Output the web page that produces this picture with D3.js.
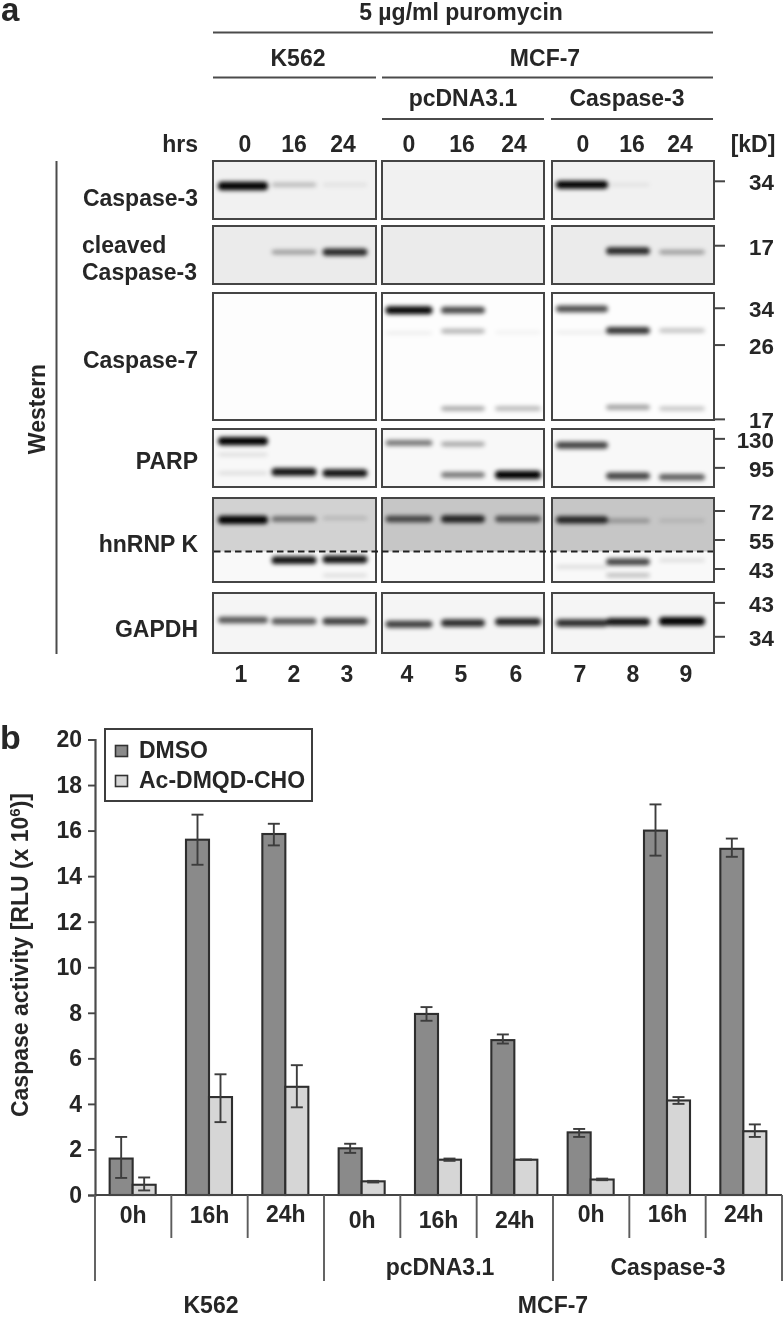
<!DOCTYPE html>
<html><head><meta charset="utf-8"><style>html,body{margin:0;padding:0;background:#fff}svg{display:block}text{font-family:"Liberation Sans",Arial,sans-serif;font-weight:700;fill:#262626}</style>
<script src="https://cdn.jsdelivr.net/npm/d3@7/dist/d3.min.js"></script></head><body><script>
// ---- panel b data ----
const groups = ["0h","16h","24h","0h","16h","24h","0h","16h","24h"];
const dmso = [1.6,15.6,15.85,2.05,7.95,6.8,2.75,16.0,15.2];
const dmsoHi = [2.55,16.7,16.3,2.25,8.25,7.05,2.9,17.15,15.65];
const dmsoLo = [0.75,14.5,15.35,1.85,7.65,6.65,2.55,14.9,14.85];
const inhib = [0.45,4.3,4.75,0.6,1.55,1.55,0.68,4.15,2.8];
const inhibHi = [0.77,5.3,5.7,0.62,1.6,1.56,0.72,4.3,3.1];
const inhibLo = [0.2,3.2,3.85,0.55,1.5,1.54,0.65,4.0,2.55];
const seriesNames = ["DMSO","Ac-DMQD-CHO"];
const yTicks = [0,2,4,6,8,10,12,14,16,18,20];
// ---- panel a data: [lane, migration within panel 0-1, density 0-1] ----
const laneNumbers = [1,2,3,4,5,6,7,8,9];
const hours = ["0","16","24"];
const casp3Bands = [[1,.43,1],[2,.41,.22],[3,.41,.07],[7,.41,.95],[8,.41,.06]];
const cleavedBands = [[2,.45,.32],[3,.45,.8],[8,.43,.8],[9,.45,.32]];
const casp7Bands = [[4,.135,.92],[5,.135,.68],[7,.125,.66],[4,.315,.06],[5,.3,.28],[6,.31,.05],[7,.31,.06],[8,.295,.75],[9,.295,.22],[5,.91,.32],[6,.91,.27],[8,.9,.36],[9,.91,.22]];
const parpBands = [[1,.21,.95],[1,.76,.1],[1,.44,.1],[2,.74,.88],[3,.76,.88],[4,.24,.5],[5,.26,.32],[5,.79,.5],[6,.79,.95],[7,.28,.7],[8,.81,.7],[9,.83,.6]];
const hnrnpBands = [[1,.26,.95],[2,.25,.48],[3,.24,.14],[4,.25,.65],[5,.25,.8],[6,.25,.6],[7,.26,.8],[8,.27,.26],[9,.27,.11],[2,.74,.88],[3,.73,.88],[3,.92,.11],[7,.82,.11],[8,.76,.7],[8,.92,.22],[9,.74,.11]];
const gapdhBands = [[1,.45,.62],[2,.47,.62],[3,.47,.72],[4,.52,.72],[5,.5,.78],[6,.48,.82],[7,.5,.78],[8,.48,.88],[9,.47,1]];
const markers = [["34",0,.35],["17",1,.34],["34",2,.12],["26",2,.41],["17",2,.995],["130",3,.17],["95",3,.67],["72",4,.155],["55",4,.5],["43",4,.845],["43",5,.165],["34",5,.73]];

// ---- layout ----
const W=783,H=1319,FS=23;
const svg=d3.select("body").append("svg").attr("width",W).attr("height",H);
const defs=svg.append("defs");
defs.append("filter").attr("id","soft").attr("x","-2%").attr("y","-2%").attr("width","104%").attr("height","104%").append("feGaussianBlur").attr("stdDeviation",.65);
defs.append("filter").attr("id","blot").attr("x","-20%").attr("y","-200%").attr("width","140%").attr("height","500%").append("feGaussianBlur").attr("stdDeviation",2);
const root=svg.append("g").attr("filter","url(#soft)");
const line=(x1,y1,x2,y2,w=1.9,c="#4c4c4c")=>root.append("line").attr("x1",x1).attr("y1",y1).attr("x2",x2).attr("y2",y2).attr("stroke",c).attr("stroke-width",w);
const label=(s,x,y,anchor="middle",size=FS)=>root.append("text").attr("x",x).attr("y",y).attr("text-anchor",anchor).attr("font-size",size).text(s);

// ---- panel a ----
label("a",1,21,"start",33);
label("5 µg/ml puromycin",461,20);
line(213,32.5,713,32.5,2.2);
label("K562",298,66); label("MCF-7",545,66);
line(213,77.5,376,77.5); line(382,77.5,713,77.5);
label("pcDNA3.1",463,106); label("Caspase-3",627,106);
line(382,119,544,119); line(551,119,713,119);
label("hrs",198,152,"end");
label("[kD]",753,152);
const panelX=[[213,376],[382,544],[552,714]];
const laneCentre=[243,294,345,409,463,518,582,628,682];
const laneSpan=[50,45,45,47,44,46,52,44,46];
const hourX=[245,294,343,409,462,514,583,632,680];
hourX.forEach((x,i)=>label(hours[i%3],x,152));
const rows=[
 {y0:161,y1:219,bg:"#f1f1f1",bands:casp3Bands},
 {y0:226,y1:284,bg:"#ebebeb",bands:cleavedBands},
 {y0:293,y1:420,bg:"#fdfdfd",bands:casp7Bands},
 {y0:429,y1:487,bg:"#f8f8f8",bands:parpBands},
 {y0:498,y1:582,bg:"#f9f9f9",top:["#d2d2d2","#c6c6c6","#c6c6c6"],split:551.5,bands:hnrnpBands},
 {y0:593,y1:653,bg:"#f5f5f5",bands:gapdhBands}];
rows.forEach(r=>{
  const yM=d3.scaleLinear().domain([0,1]).range([r.y0,r.y1]);
  panelX.forEach(([a,b],pi)=>{
    root.append("rect").attr("x",a).attr("y",r.y0).attr("width",b-a).attr("height",r.y1-r.y0).attr("fill",r.bg);
    if(r.top) root.append("rect").attr("x",a).attr("y",r.y0).attr("width",b-a).attr("height",r.split-r.y0).attr("fill",r.top[pi]);
  });
  const g=root.append("g").attr("filter","url(#blot)");
  g.selectAll("rect").data(r.bands).join("rect")
    .attr("x",d=>laneCentre[d[0]-1]-laneSpan[d[0]-1]/2)
    .attr("width",d=>laneSpan[d[0]-1])
    .attr("y",d=>yM(d[1])-(1.6+d[2]*2.6))
    .attr("height",d=>2*(1.6+d[2]*2.6))
    .attr("rx",4)
    .attr("fill","#000").attr("fill-opacity",d=>Math.min(1,d[2]*1.05));
  panelX.forEach(([a,b])=>root.append("rect").attr("x",a).attr("y",r.y0).attr("width",b-a).attr("height",r.y1-r.y0).attr("fill","none").attr("stroke","#444").attr("stroke-width",2));
  if(r.split) root.append("line").attr("x1",214).attr("x2",713).attr("y1",r.split).attr("y2",r.split).attr("stroke","#222").attr("stroke-width",2).attr("stroke-dasharray","6.5 4");
});
markers.forEach(([t,ri,m])=>{
  const r=rows[ri],yy=r.y0+(r.y1-r.y0)*m;
  line(714,yy,725,yy,2,"#444");
  label(t,774,yy+9,"end",22.4);
});
line(56.5,161,56.5,654,2);
root.append("text").attr("transform","translate(45,409) rotate(-90)").attr("text-anchor","middle").attr("font-size",FS).text("Western");
label("Caspase-3",198,206,"end");
label("cleaved",82,253,"start"); label("Caspase-3",82,280,"start");
label("Caspase-7",198,368,"end");
label("PARP",198,469,"end");
label("hnRNP K",198,552,"end");
label("GAPDH",198,637,"end");
const laneLabelX=[241,294,347,407,461,516,580,633,686];
root.selectAll(".lane").data(laneNumbers).join("text").attr("class","lane").attr("text-anchor","middle").attr("font-size",FS)
  .attr("x",(d,i)=>laneLabelX[i]).attr("y",682).text(d=>d);

// ---- panel b ----
label("b",0,749,"start",34);
const x=d3.scaleBand().domain(d3.range(9)).range([95,782]);
const sub=d3.scaleBand().domain(seriesNames).range([-23.5,22.5]);
const y=d3.scaleLinear().domain([0,20]).range([1195,739.5]);
const yAxis=d3.axisLeft(y).tickValues(yTicks).tickSize(7).tickPadding(6);
const ag=root.append("g").attr("transform","translate(95,0)").call(yAxis);
ag.selectAll("text").attr("font-size",FS).attr("fill","#262626").style("font-family",'"Liberation Sans",Arial,sans-serif');
ag.selectAll("line").attr("stroke","#444").attr("stroke-width",1.9);
ag.select(".domain").attr("stroke","#4c4c4c").attr("stroke-width",2.2);
const tl=root.append("text").attr("transform","translate(28,955) rotate(-90)").attr("text-anchor","middle").attr("font-size",FS);
tl.append("tspan").text("Caspase activity [RLU (x 10");
tl.append("tspan").attr("dy",-8).attr("font-size",15).text("6");
tl.append("tspan").attr("dy",8).text(")]");
const colors=["#8a8a8a","#d6d6d6"];
[[dmso,dmsoHi,dmsoLo],[inhib,inhibHi,inhibLo]].forEach(([vals,hi,lo],s)=>{
  const nm=seriesNames[s],g=root.append("g");
  g.selectAll("rect").data(vals).join("rect")
    .attr("x",(d,i)=>x(i)+x.bandwidth()/2+sub(nm)).attr("width",sub.bandwidth())
    .attr("y",d=>y(d)).attr("height",d=>y(0)-y(d))
    .attr("fill",colors[s]).attr("stroke","#2e2e2e").attr("stroke-width",2.1);
  const cx=i=>x(i)+x.bandwidth()/2+sub(nm)+sub.bandwidth()/2;
  const eb=g.selectAll("g").data(vals).join("g").attr("stroke","#3c3c3c").attr("stroke-width",1.9);
  eb.append("line").attr("x1",(d,i)=>cx(i)).attr("x2",(d,i)=>cx(i)).attr("y1",(d,i)=>y(hi[i])).attr("y2",(d,i)=>y(lo[i]));
  eb.append("line").attr("x1",(d,i)=>cx(i)-6).attr("x2",(d,i)=>cx(i)+6).attr("y1",(d,i)=>y(hi[i])).attr("y2",(d,i)=>y(hi[i]));
  eb.append("line").attr("x1",(d,i)=>cx(i)-6).attr("x2",(d,i)=>cx(i)+6).attr("y1",(d,i)=>y(lo[i])).attr("y2",(d,i)=>y(lo[i]));
});
line(95,1195,782,1195,1.9,"#444");
d3.range(10).forEach(i=>{const major=i%3===0; const xx=i===9?782:x(i); line(xx,1195,xx,major?1281:1238,1.9,"#5c5c5c");});
const groupBase=[1223,1223,1222,1228,1228,1228,1222,1222,1222];
root.selectAll(".grp").data(groups).join("text").attr("class","grp").attr("text-anchor","middle").attr("font-size",FS)
  .attr("x",(d,i)=>x(i)+x.bandwidth()/2).attr("y",(d,i)=>groupBase[i]).text(d=>d);
label("pcDNA3.1",440,1275); label("Caspase-3",668,1275);
label("K562",211,1313); label("MCF-7",553,1313);
// legend
root.append("rect").attr("x",105).attr("y",729).attr("width",207).attr("height",72).attr("fill","#fff").attr("stroke","#3c3c3c").attr("stroke-width",2);
seriesNames.forEach((n,i)=>{
  const ly=[751,781][i];
  root.append("rect").attr("x",115.5).attr("y",ly-5.5).attr("width",12).attr("height",11).attr("fill",colors[i]).attr("stroke","#333").attr("stroke-width",1.6);
  label(n,139,ly+6.5,"start");
});
</script></body></html>
